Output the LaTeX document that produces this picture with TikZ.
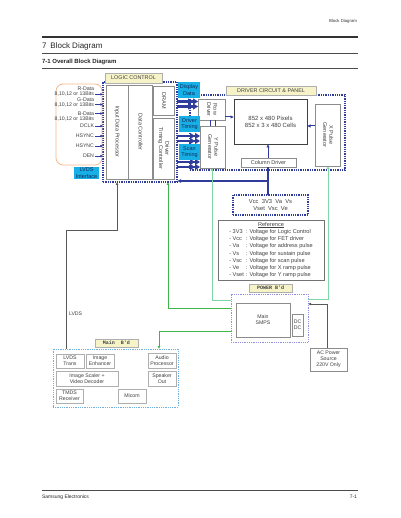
\documentclass[tikz,border=0pt]{standalone}
\usepackage{fontspec}
\setmainfont{Liberation Sans}
\setmonofont{Liberation Mono}
\usepackage{graphicx}
\usetikzlibrary{arrows.meta,calc}
\definecolor{dblue}{HTML}{2F3C9C}
\definecolor{cyanb}{HTML}{17B0E6}
\definecolor{labfill}{HTML}{F7F3C9}
\definecolor{gline}{HTML}{3DB54A}
\definecolor{lgline}{HTML}{7ED6A8}
\definecolor{boxgray}{HTML}{8C8C8C}
\definecolor{orng}{HTML}{F5B78C}
\definecolor{lav}{HTML}{9090DD}
\definecolor{lblue}{HTML}{70B0E0}
\definecolor{txt}{HTML}{404040}
\definecolor{ctxt}{HTML}{14285A}
\newcommand\fs{\fontsize{5.2}{6}\selectfont}
\newcommand\fsb{\fontsize{5.5}{6.3}\selectfont}
\newcommand\rot[1]{\rotatebox{-90}{\begin{tabular}{@{}c@{}}#1\end{tabular}}}
\newcommand\bx[7]{\node[#2,minimum width={#5pt-#3pt},minimum height={#6pt-#4pt}] (#1) at ({(#3+#5)/2},{(#4+#6)/2}) {#7};}
\begin{document}
\begin{tikzpicture}[x=1pt,y=-1pt,
 every node/.style={inner sep=0pt,outer sep=0pt},
 box/.style={draw=boxgray,line width=0.5pt,align=center,font=\fs,text=txt},
 mbox/.style={box,draw=boxgray!70},
 rbox/.style={box,font=\fsb},
 cbox/.style={fill=cyanb,align=center,font=\fsb,text=ctxt},
 lab/.style={fill=labfill,draw=boxgray!70,line width=0.4pt,font=\fontsize{5.4}{6}\selectfont,text=txt},
 tlab/.style={lab,font=\fontsize{5}{5}\selectfont\ttfamily\bfseries},
 frame/.style={draw=dblue,line width=1.3pt,densely dotted},
 lframe/.style={draw=lav,line width=0.8pt,densely dotted},
 bframe/.style={draw=lblue,line width=0.8pt,densely dotted},
 sig/.style={font=\fs,text=txt,anchor=east},
 sarr/.style={draw=dblue,line width=0.7pt,-{Latex[length=2.6pt,width=2.6pt]}},
 barr/.style={draw=dblue,line width=1pt,-{Latex[length=3.5pt,width=3.5pt]}},
 fat/.style={draw=dblue,line width=2.2pt,-{Triangle[length=5pt,width=6pt]Triangle[length=5pt,width=6pt]}},
 gwire/.style={draw=gline,line width=0.8pt,-{Latex[length=3pt,width=3pt]}},
 lgwire/.style={draw=lgline,line width=0.9pt,-{Latex[length=3pt,width=3pt]}},
 kwire/.style={draw=black!65,line width=0.8pt},
]
\useasboundingbox[fill=white] (0,0) rectangle (400,518);
% header
\node[anchor=east,font=\fontsize{4.3}{5}\selectfont,text=black!80] (hd) at (357,21) {Block Diagram};
\draw[line width=1.6pt,black!80] (42,37) -- (358,37);
\node[anchor=west,font=\fontsize{8}{9}\selectfont,text=black!85] (h1) at (42,46.5) {7\hspace{4pt}Block Diagram};
\draw[line width=0.6pt,black!70] (42,53.5) -- (358,53.5);
\node[anchor=west,font=\fontsize{6}{7}\selectfont\bfseries,text=black!85] (h2) at (42,61.5) {7-1 Overall Block Diagram};
\draw[line width=0.6pt,black!70] (42,68) -- (358,68);
% footer
\draw[line width=0.6pt,black!70] (42,490) -- (358,490);
\node[anchor=west,font=\fontsize{5}{6}\selectfont,text=black!85] (f1) at (42,497) {Samsung Electronics};
\node[anchor=east,font=\fontsize{5}{6}\selectfont,text=black!85] (f2) at (357,497) {7-1};
% frames
\bx{lc}{frame}{103}{82}{177}{182}{}
\bx{drv}{frame}{190}{95}{345}{170}{}
\bx{lvif}{draw=orng,line width=0.8pt,rounded corners=7pt}{56}{84}{102}{165}{}
\bx{vcc}{frame,align=center,font=\fontsize{5.8}{6.8}\selectfont,text=txt}{233}{195}{308}{215}{Vcc\ \ 3V3\ \ Va\ \ Vs\\Vset\ \ Vsc\ \ Ve}
\bx{pwr}{lframe}{231}{294}{308}{342}{}
\bx{mainb}{bframe}{53}{349}{178}{407}{}
% logic control
\bx{idp}{rbox}{106}{85}{128}{179}{\rot{Input Data Processor}}
\bx{dc}{rbox}{128}{85}{152}{179}{\rot{Data Controller}}
\bx{dram}{rbox}{153}{86}{174}{115}{\rot{DRAM}}
\bx{dtc}{rbox}{153}{118}{174}{179}{\rot{Driver\\Timing Controller}}
% driver
\bx{rowd}{rbox,fill=white}{198}{99}{225}{120}{\rot{Row\\Driver}}
\bx{ypg}{rbox,fill=white}{200}{126}{225}{168}{\rot{Y Pulse\\Generator}}
% fat arrows
\coordinate (t1) at (0,101.5); \coordinate (t2) at (0,106.5);
\coordinate (t3) at (0,136); \coordinate (t4) at (0,141);
\coordinate (t5) at (0,162); \coordinate (t6) at (0,167);
\draw[fat] (lc.east |- t1) -- (rowd.west |- t1);
\draw[fat] (lc.east |- t2) -- (rowd.west |- t2);
\draw[fat] (lc.east |- t3) -- (ypg.west |- t3);
\draw[fat] (lc.east |- t4) -- (ypg.west |- t4);
\draw[fat] (lc.east |- t5) -- (ypg.west |- t5);
\draw[fat] (lc.east |- t6) -- (ypg.west |- t6);
\bx{disp}{cbox}{178}{82}{200}{98}{Display\\Data}
\bx{dtim}{cbox}{179}{116}{200}{132}{Driver\\Timing}
\bx{stim}{cbox}{179}{144}{200}{160}{Scan\\Timing}
\bx{panel}{box,draw=black!75,line width=0.9pt,font=\fontsize{6}{7}\selectfont}{234}{99}{307}{144}{852 x 480 Pixels\\852 x 3 x 480 Cells}
\bx{xpg}{rbox}{315}{104}{340}{166}{\rot{X Pulse\\Generator}}
\bx{cold}{rbox}{241}{158}{296}{167}{Column Driver}
% reference
\bx{ref}{box,draw=black!55,line width=0.6pt}{218}{220}{324}{280}{}
\node[font=\fontsize{5.6}{7.2}\selectfont,text=txt] (reft) at (ref.center) {\begin{tabular}{@{}l@{\hspace{2pt}}l@{}}
\multicolumn{2}{c}{\underline{Reference}}\\
- 3V3 & : Voltage for Logic Control\\
- Vcc & : Voltage for FET driver\\
- Va & : Voltage for address pulse\\
- Vs & : Voltage for sustain pulse\\
- Vsc & : Voltage for scan pulse\\
- Ve & : Voltage for X ramp pulse\\
- Vset & : Voltage for Y ramp pulse
\end{tabular}};
% power
\bx{smps}{box}{236}{303}{290}{337}{Main\\SMPS}
\bx{dcdc}{box}{292}{314}{303}{336}{DC\\DC}
\bx{ac}{box}{310}{348}{347}{371}{AC Power\\Source\\220V Only}
% main board
\bx{lvtr}{mbox}{56}{354}{84}{368}{LVDS\\Trans}
\bx{ienh}{mbox}{86}{354}{114}{368}{Image\\Enhancer}
\bx{aud}{mbox}{148}{353}{176}{368}{Audio\\Processor}
\bx{scal}{mbox}{56}{371}{118}{386}{Image Scaler +\\Video Decoder}
\bx{spk}{mbox}{148}{371}{176}{386}{Speaker\\Out}
\bx{tmds}{mbox}{56}{389}{83}{403}{TMDS\\Receiver}
\bx{mic}{mbox}{118}{389}{146}{403}{Micom}
\bx{lvc}{cbox}{74}{167}{99}{179}{LVDS\\Interface}
% labels
\bx{lcl}{lab}{105}{73}{162}{83}{LOGIC CONTROL}
\bx{drl}{lab}{226}{86}{316}{95}{DRIVER CIRCUIT \& PANEL}
\bx{pwl}{tlab}{249}{284}{292}{292}{POWER B'd}
\bx{mbl}{tlab}{95}{339}{138}{347}{Main\ \ B'd}
% signals
\node[sig] (s1) at (94,89) {R-Data};
\node[sig] (s1b) at (94,94.3) {8,10,12 or 13Bits};
\node[sig] (s2) at (94,99.5) {G-Data};
\node[sig] (s2b) at (94,104.5) {8,10,12 or 13Bits};
\node[sig] (s3) at (94,113.5) {B-Data};
\node[sig] (s3b) at (94,119) {8,10,12 or 13Bits};
\node[sig] (s4) at (94,126) {DCLK};
\node[sig] (s5) at (94,136) {HSYNC};
\node[sig] (s6) at (94,146) {HSYNC};
\node[sig] (s7) at (94,156) {DEN};
\foreach \s in {s1b,s2b,s3,s4,s5,s6,s7}
  \draw[sarr,shorten <=1pt] (\s.east) -- (lc.west |- \s.east);
% row/y links
\coordinate (v1) at (210,0); \coordinate (v2) at (215,0);
\draw[dblue,line width=0.6pt] (rowd.south -| v1) -- (ypg.north -| v1);
\draw[dblue,line width=0.6pt] (rowd.south -| v2) -- (ypg.north -| v2);
% panel arrows
\coordinate (p1) at (0,117);
\draw[barr] (rowd.east |- p1) -- (panel.west |- p1);
\coordinate (p2) at (0,126);
\draw[barr] (xpg.west |- p2) -- (panel.east |- p2);
\coordinate (p3) at (268,181);
\draw[barr] (cold.north -| p3) -- (panel.south -| p3);
\draw[dblue,line width=1.5pt] (vcc.north -| p3) -- (cold.south -| p3);
\draw[dblue,line width=1.5pt,-{Latex[length=4pt,width=4pt]}] (p3) -- (lc.east |- p3);
% green wires
\coordinate (g1) at (212,300);
\draw[lgwire] (pwr.west |- g1) -- (g1) -- (ypg.south -| g1);
\coordinate (g2) at (328,299);
\draw[lgwire] (pwr.east |- g2) -- (g2) -- (xpg.south -| g2);
\coordinate (g3) at (168,308);
\draw[gwire] (pwr.west |- g3) -- (g3) -- (lc.south -| g3);
\coordinate (g4) at (159,331);
\draw[gwire] (pwr.west |- g4) -- (g4) -- (mainb.north -| g4);
% LVDS wire
\coordinate (l1) at (117,230); \coordinate (l2) at (66,230);
\draw[kwire,{Latex[length=3pt,width=3pt]}-] (lc.south -| l1) -- (l1) -- (l2) -- (mainb.north -| l2);
\node[font=\fs,text=txt,anchor=west] (lvl) at (69,314) {LVDS};
% AC wire
\coordinate (a1) at (327,304);
\draw[kwire,-{Latex[length=3pt,width=3pt]}] (ac.north -| a1) -- (a1) -- (pwr.east |- a1);
\end{tikzpicture}
\end{document}
